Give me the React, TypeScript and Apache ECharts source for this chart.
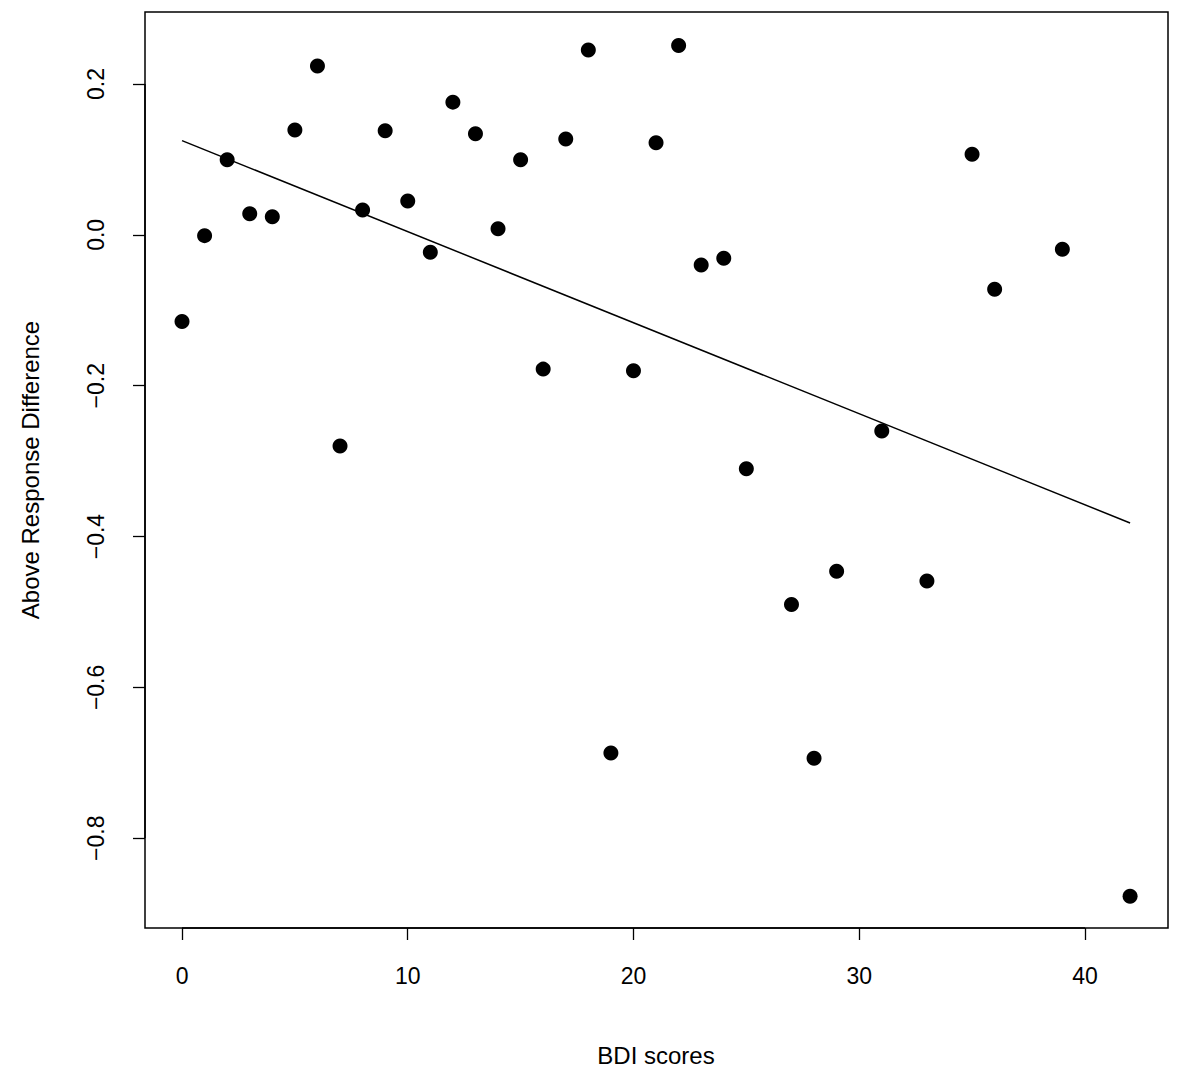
import React, { useEffect, useRef } from 'react';
import * as echarts from 'echarts';

const bdiScores = [0, 1, 2, 3, 4, 5, 6, 7, 8, 9, 10, 11, 12, 13, 14, 15, 16, 17, 18, 19, 20, 21, 22, 23, 24, 25, 27, 28, 29, 31, 33, 35, 36, 39, 42];
const responseDiff = [-0.115, -0.001, 0.0995, 0.028, 0.024, 0.139, 0.224, -0.28, 0.033, 0.138, 0.045, -0.023, 0.176, 0.134, 0.008, 0.0995, -0.178, 0.127, 0.245, -0.687, -0.18, 0.122, 0.251, -0.04, -0.031, -0.31, -0.49, -0.694, -0.446, -0.26, -0.459, 0.107, -0.072, -0.019, -0.877];
const fitLine = [[0, 0.125], [42, -0.382]];
const xTicks = [0, 10, 20, 30, 40];
const yTicks = [-0.8, -0.6, -0.4, -0.2, 0.0, 0.2];

const font = 'Liberation Sans, Arial, sans-serif';

export default function App() {
  const chartRef = useRef<HTMLDivElement>(null);

  useEffect(() => {
    if (!chartRef.current) return;
    const chart = echarts.init(chartRef.current, null, { renderer: 'svg' });
    const left = 145, top = 12, width = 1023, height = 916;

    chart.setOption({
      animation: false,
      backgroundColor: '#fff',
      grid: { left, top, width, height },
      xAxis: {
        type: 'value', min: -1.64, max: 43.68, position: 'bottom',
        splitLine: { show: false },
        axisLine: { show: false, onZero: false },
        axisTick: { show: true, length: 12, inside: false, customValues: xTicks, lineStyle: { color: '#000', width: 1.3 } },
        axisLabel: { customValues: xTicks, margin: 36, fontSize: 23, color: '#000', fontFamily: font },
      },
      yAxis: {
        type: 'value', min: -0.919, max: 0.2955, position: 'left',
        splitLine: { show: false },
        axisLine: { show: false, onZero: false },
        axisTick: { show: true, length: 12, inside: false, customValues: yTicks, lineStyle: { color: '#000', width: 1.3 } },
        axisLabel: {
          customValues: yTicks, rotate: 90, margin: 38, fontSize: 23, color: '#000', fontFamily: font,
          formatter: (v: number) => v.toFixed(1).replace('-', '\u2212'),
        },
      },
      series: [
        {
          type: 'scatter', symbolSize: 15, itemStyle: { color: '#000', opacity: 1 },
          data: bdiScores.map((x, i) => [x, responseDiff[i]]),
        },
        {
          type: 'line', data: fitLine, showSymbol: false, symbol: 'none',
          lineStyle: { color: '#000', width: 1.5 },
        },
      ],
      graphic: [
        { type: 'rect', shape: { x: left, y: top, width, height }, style: { fill: 'none', stroke: '#000', lineWidth: 1.5 } },
        { type: 'line', shape: { x1: 182, y1: 928, x2: 1085, y2: 928 }, style: { stroke: '#000', lineWidth: 1.5 } },
        { type: 'line', shape: { x1: 145, y1: 84, x2: 145, y2: 838 }, style: { stroke: '#000', lineWidth: 1.5 } },
        {
          type: 'text', x: 656, y: 1055,
          style: { text: 'BDI scores', font: `24px ${font}`, fill: '#000', align: 'center', verticalAlign: 'middle' },
        },
        {
          type: 'text', x: 30, y: 470, rotation: Math.PI / 2,
          style: { text: 'Above Response Difference', font: `24px ${font}`, fill: '#000', align: 'center', verticalAlign: 'middle' },
        },
      ],
    } as any);

    return () => chart.dispose();
  }, []);

  return (
    <div style={{ position: 'absolute', left: 0, top: 0, width: 1181, height: 1076, background: '#fff' }}>
      <div ref={chartRef} style={{ width: 1181, height: 1076 }} />
    </div>
  );
}
